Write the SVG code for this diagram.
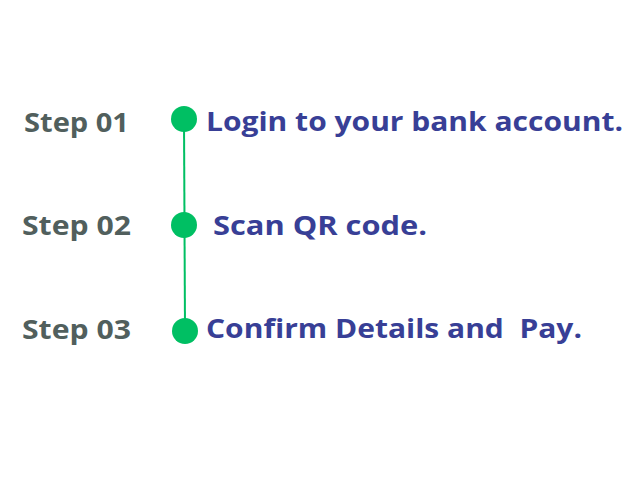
<svg xmlns="http://www.w3.org/2000/svg" width="629" height="479" viewBox="0 0 629 479">
<style>
.step{font-family:"Open Sans","Liberation Sans",sans-serif;font-weight:700;font-size:27px;fill:#515f5d;}
.desc{font-family:"Open Sans","Liberation Sans",sans-serif;font-weight:700;font-size:27px;fill:#383f96;white-space:pre;}
.dot{fill:#00bf63;}
.line{stroke:#00bf63;stroke-width:2;fill:none;}
</style>
<rect width="629" height="479" fill="#ffffff"/>
<g id="connectors">
<line class="line" x1="184" y1="119" x2="184.5" y2="225"/>
<line class="line" x1="184.5" y1="225" x2="185" y2="331"/>
</g>
<g id="step1">
<text class="step" x="24" y="132" textLength="105" lengthAdjust="spacingAndGlyphs">Step 01</text>
<circle class="dot" cx="184" cy="119" r="13"/>
<text class="desc" x="206" y="131" textLength="417" lengthAdjust="spacingAndGlyphs">Login to your bank account.</text>
</g>
<g id="step2">
<text class="step" x="22" y="235" textLength="109" lengthAdjust="spacingAndGlyphs">Step 02</text>
<circle class="dot" cx="184" cy="225" r="13"/>
<text class="desc" x="213" y="235" textLength="214" lengthAdjust="spacingAndGlyphs">Scan QR code.</text>
</g>
<g id="step3">
<text class="step" x="22" y="339" textLength="109" lengthAdjust="spacingAndGlyphs">Step 03</text>
<circle class="dot" cx="185" cy="331" r="13"/>
<text class="desc" x="206" y="338" textLength="376" lengthAdjust="spacingAndGlyphs" xml:space="preserve">Confirm Details and  Pay.</text>
</g>
</svg>
